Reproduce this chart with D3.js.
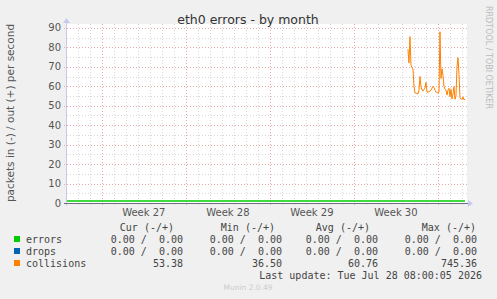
<!DOCTYPE html>
<meta charset="utf-8" />
<script src="https://d3js.org/d3.v7.min.js"></script>
<body style="margin:0;background:#f0f0f0">
<svg id="chart" width="497" height="299" style="display:block"></svg>
<script>
/* DATA ------------------------------------------------------------------ */
const timeStart="2026-06-25T02:30:00", timeEnd="2026-07-28T10:00:00";
const weekStarts=["2026-06-28","2026-07-05","2026-07-12","2026-07-19","2026-07-26"];
const weekLabels=["Week 27","Week 28","Week 29","Week 30"];
const yTicks=[0,10,20,30,40,50,60,70,80,90];

// collisions: 2-hour samples
const collStart="2026-07-23T12:00:00", collStepHours=2;
const collValues=[79,72,85.5,71,69.5,69,60,56.7,56.5,56.3,56,58,65,60,58,57.5,58.5,59,62,57,
  57,57.3,57.5,58,59,60,59.5,58,57,56.8,56.5,57,88,64,69,65.5,60,58.5,58,55.5,
  58,59,54.7,58.5,53.5,56,59.8,53.3,55,70,74.7,66,54,53.5,53.3,54.5,53,53.4];
const errorsPts=[["2026-06-25T02:30:00",0],["2026-07-28T06:00:00",0]];

const legendNames=["errors","drops","collisions"];
const legendColors=["#00cc00","#0066b3","#ff8000"];
const colHeads=["Cur (-/+)","Min (-/+)","Avg (-/+)","Max (-/+)"];
const legendRows=[
  ["0.00 /  0.00","0.00 /  0.00","0.00 /  0.00","0.00 /  0.00"],
  ["0.00 /  0.00","0.00 /  0.00","0.00 /  0.00","0.00 /  0.00"],
  ["53.38","36.50","60.76","745.36"]
];

/* LAYOUT ---------------------------------------------------------------- */
const L=67,R=467,T=24,B=203;
const svg=d3.select("#chart");
const x=d3.scaleTime().domain([new Date(timeStart),new Date(timeEnd)]).range([L,R]);
const y=d3.scaleLinear().domain([0,92]).range([B,T]);

svg.append("rect").attr("x",L).attr("y",T).attr("width",R-L).attr("height",B-T).attr("fill","#fff");

/* grid */
const days=d3.timeDay.range(new Date(timeStart),new Date(timeEnd));
const g=svg.append("g").attr("shape-rendering","crispEdges");
g.selectAll("line.vmin").data(days).join("line")
  .attr("x1",d=>Math.round(x(d))+.5).attr("x2",d=>Math.round(x(d))+.5)
  .attr("y1",T).attr("y2",B+2)
  .attr("stroke","#d8d8d8").attr("stroke-dasharray","1,2");
g.selectAll("line.hmin").data(d3.range(5,92,10)).join("line")
  .attr("x1",L).attr("x2",R).attr("y1",d=>Math.round(y(d))+.5).attr("y2",d=>Math.round(y(d))+.5)
  .attr("stroke","#d8d8d8").attr("stroke-dasharray","1,2");
g.selectAll("line.vmaj").data(weekStarts.map(s=>new Date(s+"T00:00:00"))).join("line")
  .attr("x1",d=>Math.round(x(d))+.5).attr("x2",d=>Math.round(x(d))+.5)
  .attr("y1",T).attr("y2",B+4)
  .attr("stroke","#e8a8a8").attr("stroke-dasharray","1,2");
g.selectAll("line.hmaj").data(yTicks).join("line")
  .attr("x1",L-3).attr("x2",R).attr("y1",d=>Math.round(y(d))+.5).attr("y2",d=>Math.round(y(d))+.5)
  .attr("stroke","#e8a8a8").attr("stroke-dasharray","1,2");

/* y labels */
svg.selectAll("text.yt").data(yTicks).join("text")
  .attr("x",61).attr("y",d=>y(d)+3.5).attr("text-anchor","end")
  .attr("font-family","DejaVu Sans").attr("font-size",10).attr("fill","#555").text(d=>d);

/* week labels */
svg.selectAll("text.wk").data(weekLabels).join("text")
  .attr("x",(d,i)=>x(d3.timeHour.offset(new Date(weekStarts[i]+"T00:00:00"),84)))
  .attr("y",216).attr("text-anchor","middle")
  .attr("font-family","DejaVu Sans").attr("font-size",10).attr("fill","#555").text(d=>d);

/* series */
const line=d3.line().x(d=>x(d[0])).y(d=>y(d[1]));
svg.append("path").datum(errorsPts.map(p=>[new Date(p[0]),p[1]]))
  .attr("d",line).attr("transform","translate(0,-2)")
  .attr("fill","none").attr("stroke","#00cc00").attr("stroke-width",1.5);
const coll=collValues.map((v,i)=>[d3.timeHour.offset(new Date(collStart),i*collStepHours),v]);
svg.append("path").datum(coll).attr("d",line)
  .attr("fill","none").attr("stroke","#ff8000").attr("stroke-width",1);

/* axes */
svg.append("line").attr("x1",L-0.5).attr("x2",L-0.5).attr("y1",B+3).attr("y2",T-2)
  .attr("stroke","#c8c8f0");
svg.append("path").attr("d",`M${L-4},${T-1}L${L+3},${T-1}L${L-0.5},${T-6}Z`).attr("fill","#c8c8f0");
svg.append("line").attr("x1",L-3).attr("x2",R+1).attr("y1",B+0.5).attr("y2",B+0.5)
  .attr("stroke","#6e6e80");
svg.append("path").attr("d",`M${R+1},${B-3}L${R+1},${B+4}L${R+6},${B+0.5}Z`).attr("fill","#c8c8f0");

/* titles */
svg.append("text").attr("x",248).attr("y",24).attr("text-anchor","middle")
  .attr("font-family","DejaVu Sans").attr("font-size",12.5).attr("fill","#333")
  .text("eth0 errors - by month");
svg.append("text").attr("transform","translate(14,113) rotate(-90)").attr("text-anchor","middle")
  .attr("font-family","DejaVu Sans").attr("font-size",10.5).attr("fill","#555")
  .text("packets in (-) / out (+) per second");
svg.append("text").attr("transform","translate(486,6) rotate(90)")
  .attr("font-family","DejaVu Sans").attr("font-size",8).attr("fill","#bbb")
  .text("RRDTOOL / TOBI OETIKER");

/* legend */
const mono={"font-family":"DejaVu Sans Mono","font-size":10,"fill":"#444"};
const txt=(sel)=>{for(const k in mono)sel.attr(k,mono[k]);return sel;};
const headX=[174,275,370,476], valX=[183,282,378,477];
txt(svg.selectAll("text.hd").data(colHeads).join("text")
  .attr("x",(d,i)=>headX[i]).attr("y",231).attr("text-anchor","end").text(d=>d));
legendNames.forEach((n,r)=>{
  const yy=243+r*12;
  svg.append("rect").attr("x",14).attr("y",yy-7).attr("width",6).attr("height",6)
    .attr("fill",legendColors[r]);
  txt(svg.append("text").attr("x",26).attr("y",yy).text(n));
  txt(svg.selectAll(null).data(legendRows[r]).join("text")
    .attr("x",(d,i)=>valX[i]).attr("y",yy).attr("text-anchor","end")
    .attr("xml:space","preserve").style("white-space","pre").text(d=>d));
});
txt(svg.append("text").attr("x",482).attr("y",279).attr("text-anchor","end")
  .text("Last update: Tue Jul 28 08:00:05 2026"));
svg.append("text").attr("x",248).attr("y",290).attr("text-anchor","middle")
  .attr("font-family","DejaVu Sans").attr("font-size",7.5).attr("fill","#ccc")
  .text("Munin 2.0.49");
</script>
</body>
